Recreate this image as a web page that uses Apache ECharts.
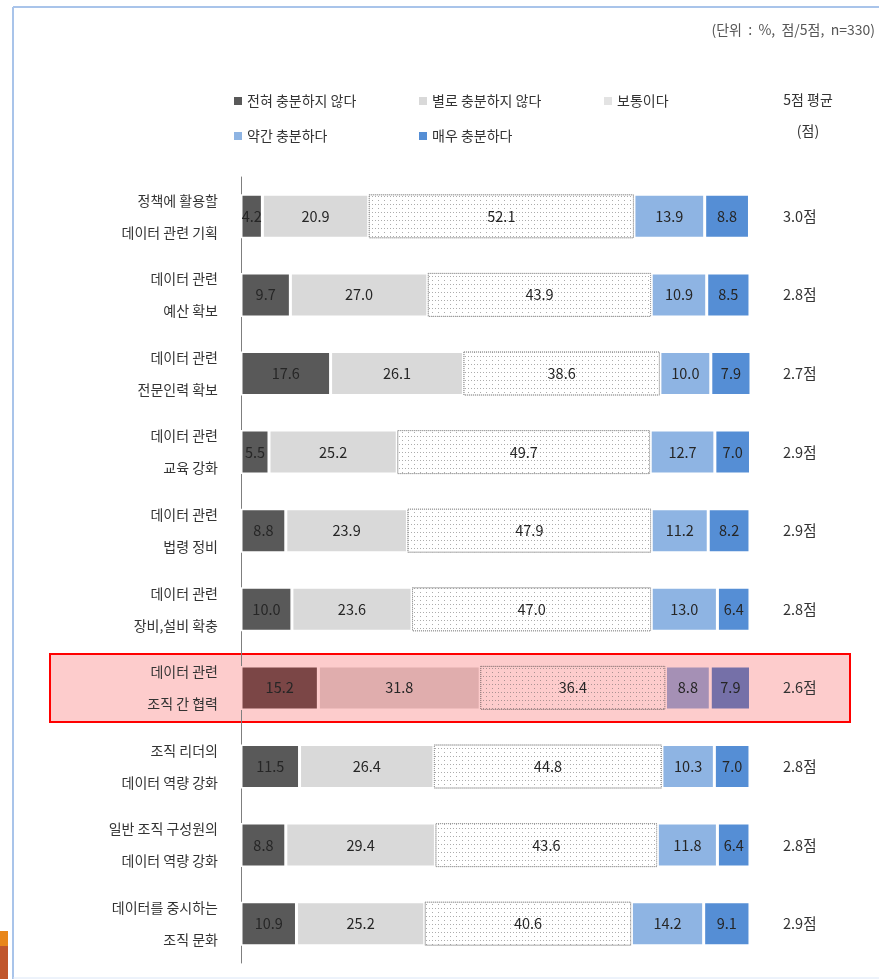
<!DOCTYPE html>
<html>
<head>
<meta charset="utf-8">
<script src="https://cdn.jsdelivr.net/npm/echarts@6/dist/echarts.min.js"></script>
<style>
  html, body { margin: 0; padding: 0; background: #fff; }
  #chart { width: 879px; height: 979px; }
</style>
</head>
<body>
<div id="chart"></div>
<script>
const categories = [
  '정책에 활용할\n데이터 관련 기획',
  '데이터 관련\n예산 확보',
  '데이터 관련\n전문인력 확보',
  '데이터 관련\n교육 강화',
  '데이터 관련\n법령 정비',
  '데이터 관련\n장비,설비 확충',
  '데이터 관련\n조직 간 협력',
  '조직 리더의\n데이터 역량 강화',
  '일반 조직 구성원의\n데이터 역량 강화',
  '데이터를 중시하는\n조직 문화'
]
const levels = ['전혀 충분하지 않다', '별로 충분하지 않다', '보통이다', '약간 충분하다', '매우 충분하다']
const strongNo = [4.2, 9.7, 17.6, 5.5, 8.8, 10.0, 15.2, 11.5, 8.8, 10.9]
const no = [20.9, 27.0, 26.1, 25.2, 23.9, 23.6, 31.8, 26.4, 29.4, 25.2]
const neutral = [52.1, 43.9, 38.6, 49.7, 47.9, 47.0, 36.4, 44.8, 43.6, 40.6]
const yes = [13.9, 10.9, 10.0, 12.7, 11.2, 13.0, 8.8, 10.3, 11.8, 14.2]
const strongYes = [8.8, 8.5, 7.9, 7.0, 8.2, 6.4, 7.9, 7.0, 6.4, 9.1]
const averages = [3.0, 2.8, 2.7, 2.9, 2.9, 2.8, 2.6, 2.8, 2.8, 2.9]

const highlightIndex = 6
const colors = ['#595959', '#d9d9d9', '#ffffff', '#8eb4e3', '#558ed5']
const highlightColors = ['#7b4646', '#e0adad', '#fdcccc', '#a590b5', '#7570a8']
const font = '"Noto Sans CJK KR", "Noto Sans", sans-serif'

// dotted cross pattern of the "보통이다" segments
const decal = {
  symbol: 'rect',
  symbolSize: 1,
  dashArrayX: [[1, 2, 1, 2], [1, 5]],
  dashArrayY: [1, 3],
  color: 'rgba(90,90,90,0.5)'
}

function makeSeries(values, k) {
  const isNeutral = k === 2
  return {
    name: levels[k],
    type: 'bar',
    stack: 'total',
    barWidth: 44,
    itemStyle: {
      color: colors[k],
      borderColor: isNeutral ? '#9a9a9a' : '#ffffff',
      borderWidth: isNeutral ? 1 : 1.5,
      borderType: isNeutral ? 'dotted' : 'solid',
      decal: isNeutral ? decal : null
    },
    label: {
      show: true,
      position: 'inside',
      color: '#262626',
      fontSize: 14.5,
      fontFamily: font,
      formatter: (p) => p.value.toFixed(1)
    },
    data: values.map((v, i) => i === highlightIndex
      ? { value: v, itemStyle: { color: highlightColors[k], borderColor: isNeutral ? '#9a8080' : '#fdcccc' } }
      : v)
  }
}

const chart = echarts.init(document.getElementById('chart'))
chart.setOption({
  animation: false,
  textStyle: { fontFamily: font },
  grid: { left: 241, right: 128, top: 177, bottom: 16 },
  legend: {
    left: 229,
    top: 83,
    width: 560,
    itemWidth: 8,
    itemHeight: 8,
    itemGap: 9,
    icon: 'rect',
    data: levels.map((n, k) => k === 2
      ? { name: n, itemStyle: { color: '#e3e3e3', decal: 'none', borderWidth: 0 } }
      : { name: n, itemStyle: { borderWidth: 0 } }),
    textStyle: { color: '#333333', fontSize: 14, fontFamily: font, width: 163, lineHeight: 26 }
  },
  xAxis: { type: 'value', min: 0, max: 100.2, show: false },
  yAxis: [
    {
      type: 'category',
      inverse: true,
      data: categories,
      axisLine: { show: true, lineStyle: { color: '#7f7f7f', width: 1 } },
      axisTick: { show: false },
      axisLabel: { color: '#333333', fontSize: 14, fontFamily: font, lineHeight: 32, margin: 23, align: 'right' }
    },
    {
      type: 'category',
      inverse: true,
      position: 'right',
      data: categories,
      axisLine: { show: false },
      axisTick: { show: false },
      axisLabel: {
        color: '#333333', fontSize: 14.5, fontFamily: font, margin: 32, align: 'left',
        formatter: (v, i) => averages[i].toFixed(1) + '점'
      }
    }
  ],
  graphic: [
    { type: 'rect', z: -10, shape: { x: 50, y: 654, width: 800, height: 68 },
      style: { fill: '#fdcccc', stroke: '#ff0000', lineWidth: 2 } },
    { type: 'line', shape: { x1: 13, y1: 7, x2: 879, y2: 7 }, style: { stroke: '#a9c4ea', lineWidth: 2 } },
    { type: 'line', shape: { x1: 13, y1: 7, x2: 13, y2: 979 }, style: { stroke: '#a9c4ea', lineWidth: 2 } },
    { type: 'line', shape: { x1: 13, y1: 978, x2: 879, y2: 978 }, style: { stroke: '#dbe6f6', lineWidth: 1 } },
    { type: 'rect', shape: { x: 0, y: 931, width: 8, height: 15 }, style: { fill: '#e8861a' } },
    { type: 'rect', shape: { x: 0, y: 946, width: 8, height: 33 }, style: { fill: '#c0562c' } },
    { type: 'text', x: 875, y: 30,
      style: { text: '(단위  :  %,  점/5점,  n=330)', fill: '#555555', font: '14px ' + font, align: 'right', verticalAlign: 'middle' } },
    { type: 'text', x: 808, y: 100,
      style: { text: '5점 평균', fill: '#333333', font: '14px ' + font, align: 'center', verticalAlign: 'middle' } },
    { type: 'text', x: 808, y: 131,
      style: { text: '(점)', fill: '#333333', font: '14px ' + font, align: 'center', verticalAlign: 'middle' } }
  ],
  series: [strongNo, no, neutral, yes, strongYes].map(makeSeries)
})
</script>
</body>
</html>
